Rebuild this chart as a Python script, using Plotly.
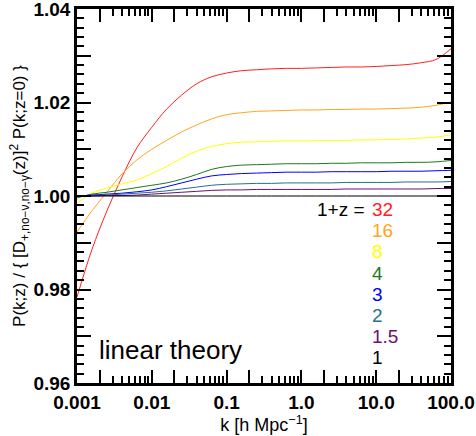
import plotly.graph_objects as go

# k grid [h/Mpc] shared by all curves (about 0.2 dex apart)
k = [0.001, 0.00158, 0.00251, 0.00398, 0.00631, 0.01, 0.0158, 0.0251, 0.0398, 0.0631,
     0.1, 0.158, 0.251, 0.398, 0.631, 1, 1.58, 2.51, 3.98, 6.31,
     10, 15.8, 25.1, 39.8, 63.1, 100]

# ratio P(k;z) / {[D(z)]^2 P(k;z=0)} for each 1+z
r_32 = [0.9784, 0.9885, 0.9968, 1.0040, 1.0103, 1.0147, 1.0186, 1.0216, 1.0240, 1.0255,
        1.0263, 1.0268, 1.0270, 1.0272, 1.0273, 1.0273, 1.0274, 1.0275, 1.0276, 1.0276,
        1.0277, 1.0279, 1.0281, 1.0285, 1.0292, 1.0315]
r_16 = [0.9923, 0.9968, 1.0008, 1.0047, 1.0077, 1.0100, 1.0119, 1.0137, 1.0152, 1.0165,
        1.0174, 1.0178, 1.0181, 1.0182, 1.0183, 1.0184, 1.0184, 1.0185, 1.0185, 1.0186,
        1.0186, 1.0187, 1.0188, 1.0190, 1.0194, 1.0201]
r_8 = [0.9985, 1.0006, 1.0017, 1.0026, 1.0034, 1.0048, 1.0063, 1.0081, 1.0096, 1.0106,
       1.0112, 1.0115, 1.0116, 1.0117, 1.0118, 1.0118, 1.0118, 1.0119, 1.0119, 1.0120,
       1.0120, 1.0121, 1.0122, 1.0124, 1.0126, 1.0131]
r_4 = [0.9996, 1.0004, 1.0008, 1.0013, 1.0018, 1.0023, 1.0028, 1.0036, 1.0046, 1.0057,
       1.0063, 1.0066, 1.0067, 1.0068, 1.0069, 1.0069, 1.0069, 1.0070, 1.0070, 1.0071,
       1.0071, 1.0071, 1.0072, 1.0072, 1.0073, 1.0076]
r_3 = [1.0000, 1.0002, 1.0004, 1.0006, 1.0009, 1.0013, 1.0020, 1.0028, 1.0036, 1.0043,
       1.0046, 1.0048, 1.0049, 1.0050, 1.0051, 1.0051, 1.0051, 1.0052, 1.0052, 1.0052,
       1.0052, 1.0053, 1.0053, 1.0053, 1.0054, 1.0055]
r_2 = [1.0000, 1.0001, 1.0002, 1.0004, 1.0006, 1.0008, 1.0011, 1.0015, 1.0019, 1.0023,
       1.0025, 1.0026, 1.0027, 1.0027, 1.0028, 1.0028, 1.0028, 1.0028, 1.0029, 1.0029,
       1.0029, 1.0029, 1.0030, 1.0030, 1.0030, 1.0031]
r_15 = [1.0000, 1.0000, 1.0001, 1.0001, 1.0002, 1.0004, 1.0006, 1.0008, 1.0010, 1.0012,
        1.0013, 1.0013, 1.0014, 1.0014, 1.0014, 1.0014, 1.0014, 1.0014, 1.0015, 1.0015,
        1.0015, 1.0015, 1.0015, 1.0015, 1.0016, 1.0016]
r_1 = [1.0] * len(k)

labels = ['32', '16', '8', '4', '3', '2', '1.5', '1']
series = [r_32, r_16, r_8, r_4, r_3, r_2, r_15, r_1]
colors = ['#ff2020', '#ffa520', '#ffff00', '#1c7a1c', '#0000ff', '#2a6e8e', '#6e106e', '#000000']

# axis ticks
x_major = [0.001, 0.01, 0.1, 1, 10, 100]
x_major_text = ['0.001', '0.01', '0.1', '1.0', '10.0', '100.0']
x_long = [0.002, 0.02, 0.2, 2, 20]          # unlabelled long ticks
x_minor = [m * d for d in [0.001, 0.01, 0.1, 1, 10] for m in range(3, 10)]
y_major = [0.96, 0.98, 1.00, 1.02, 1.04]
y_major_text = ['0.96', '0.98', '1.00', '1.02', '1.04']
y_long = [0.97, 0.99, 1.01, 1.03]           # unlabelled long ticks

FONT = 'Liberation Sans'
tick_font = dict(family=FONT, size=19, color='black', weight='bold')

fig = go.Figure()
for lab, r, c in zip(labels, series, colors):
    fig.add_trace(go.Scatter(x=k, y=r, mode='lines', line=dict(color=c, width=1, shape='spline'),
                             name=lab, showlegend=False))
# empty trace so the overlay axes (extra long ticks) are drawn
fig.add_trace(go.Scatter(x=[], y=[], xaxis='x2', yaxis='y2', showlegend=False, hoverinfo='skip'))

# legend-like labels
fig.add_annotation(x=0.775, y=0.464, xref='paper', yref='paper', text='1+z =', showarrow=False,
                   xanchor='right', yanchor='middle', font=dict(family=FONT, size=19, color='black'))
for i, (lab, c) in enumerate(zip(labels, colors)):
    fig.add_annotation(x=0.783, y=0.464 - i * 0.0567, xref='paper', yref='paper', text=lab,
                       showarrow=False, xanchor='left', yanchor='middle',
                       font=dict(family=FONT, size=19, color=c))

fig.add_annotation(x=0.054, y=0.087, xref='paper', yref='paper', text='linear theory', showarrow=False,
                   xanchor='left', yanchor='middle', font=dict(family=FONT, size=26, color='black'))

fig.update_layout(
    xaxis=dict(type='log', range=[-3, 2], showgrid=False, zeroline=False, automargin=False,
               showline=True, linewidth=2.5, linecolor='black', mirror='ticks',
               ticks='inside', ticklen=13, tickwidth=1.5, tickcolor='black',
               tickmode='array', tickvals=x_major, ticktext=x_major_text, ticklabeloverflow='allow',
               tickfont=tick_font,
               minor=dict(ticks='inside', ticklen=7, tickwidth=1.5, tickcolor='black',
                          tickmode='array', tickvals=x_minor),
               title=dict(text='k [h Mpc<sup>−1</sup>]', standoff=6,
                          font=dict(family=FONT, size=18, color='black'))),
    xaxis2=dict(type='log', range=[-3, 2], overlaying='x', anchor='y2', side='bottom',
                showgrid=False, zeroline=False, automargin=False, showline=False, mirror='ticks',
                ticks='inside', ticklen=13, tickwidth=1.5, tickcolor='black',
                tickmode='array', tickvals=x_long, showticklabels=False),
    yaxis=dict(range=[0.96, 1.04], showgrid=False, zeroline=False, automargin=False,
               showline=True, linewidth=2.5, linecolor='black', mirror='ticks',
               ticks='inside', ticklen=14, tickwidth=1.5, tickcolor='black',
               tickmode='array', tickvals=y_major, ticktext=y_major_text, ticklabeloverflow='allow',
               tickfont=tick_font,
               minor=dict(ticks='inside', ticklen=7, tickwidth=1.5, tickcolor='black', dtick=0.002),
               title=dict(text='P(k;z) / { [D<sub>+,no−ν,no−γ</sub>(z)]<sup>2</sup> P(k;z=0) }',
                          standoff=4, font=dict(family=FONT, size=17, color='black'))),
    yaxis2=dict(range=[0.96, 1.04], overlaying='y', anchor='x2', side='left',
                showgrid=False, zeroline=False, automargin=False, showline=False, mirror='ticks',
                ticks='inside', ticklen=14, tickwidth=1.5, tickcolor='black',
                tickmode='array', tickvals=y_long, showticklabels=False),
    width=476, height=436, margin=dict(l=77, r=25, t=9, b=53),
    plot_bgcolor='white', paper_bgcolor='white', showlegend=False)

# drop the browser's default page margin so the figure sits at the window's corner
fig.write_html("out.html", config={'displayModeBar': False},
               post_script="document.body.style.margin='0';")
